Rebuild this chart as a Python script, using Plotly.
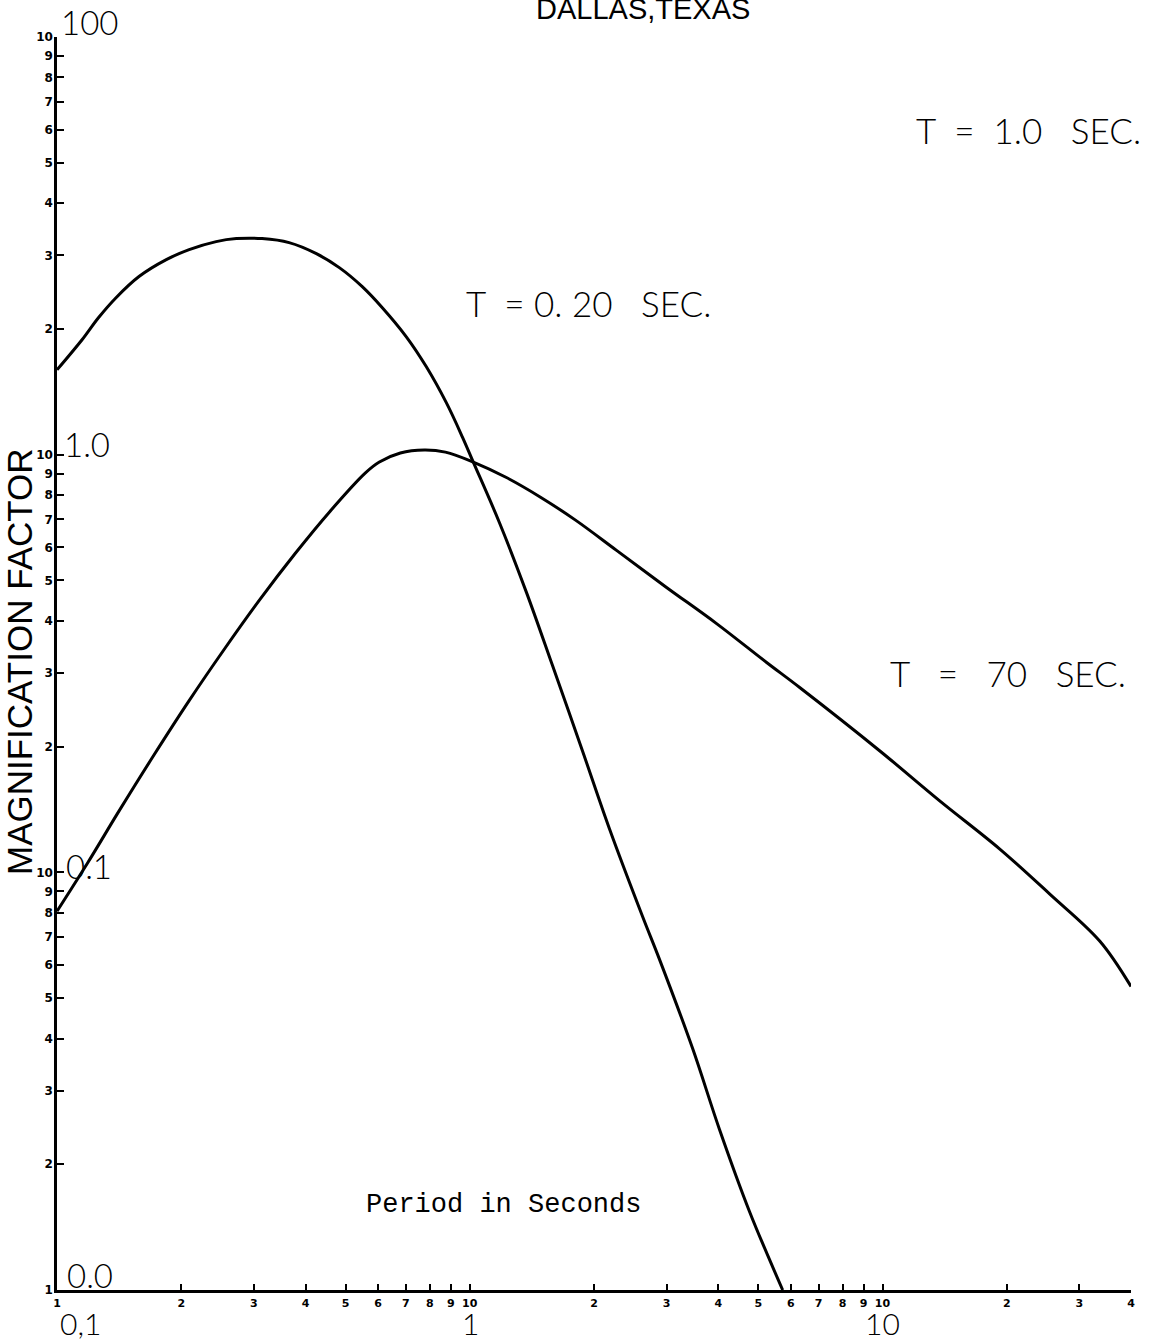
import plotly.graph_objects as go

# ---- data (period in seconds, magnification factor) ----
period_a = [0.1, 0.115, 0.126, 0.139, 0.158, 0.184, 0.209, 0.243, 0.272, 0.314,
            0.365, 0.425, 0.483, 0.549, 0.614, 0.702, 0.785, 0.878, 0.960, 1.02,
            1.179, 1.372, 1.586, 1.875, 2.181, 2.621, 2.882, 3.466, 4.03, 4.764, 5.73]
mag_a = [1.596, 1.884, 2.127, 2.376, 2.670, 2.931, 3.097, 3.237, 3.291, 3.291,
         3.219, 3.029, 2.804, 2.525, 2.248, 1.915, 1.623, 1.330, 1.102, 0.960,
         0.689, 0.468, 0.313, 0.1955, 0.127, 0.0785, 0.0619, 0.0379, 0.0242, 0.0154, 0.01]

period_b = [0.1, 0.1186, 0.1414, 0.1719, 0.209, 0.254, 0.309, 0.378, 0.459, 0.558,
            0.604, 0.679, 0.776, 0.873, 1.02, 1.22, 1.484, 1.804, 2.268, 2.998,
            3.963, 5.239, 6.30, 9.84, 13.76, 19.24, 25.43, 33.63, 40.0]
mag_b = [0.0807, 0.1053, 0.1403, 0.1912, 0.2577, 0.3416, 0.4478, 0.5806, 0.7323, 0.903,
         0.960, 1.009, 1.026, 1.014, 0.960, 0.884, 0.791, 0.697, 0.590, 0.481,
         0.394, 0.318, 0.277, 0.1955, 0.1483, 0.1137, 0.0887, 0.0684, 0.0533]

x_tickvals = [0.1, 0.2, 0.3, 0.4, 0.5, 0.6, 0.7, 0.8, 0.9,
              1, 2, 3, 4, 5, 6, 7, 8, 9,
              10, 20, 30, 40]
x_ticktext = ["1", "2", "3", "4", "5", "6", "7", "8", "9",
              "10", "2", "3", "4", "5", "6", "7", "8", "9",
              "10", "2", "3", "4"]
y_tickvals = [0.01, 0.02, 0.03, 0.04, 0.05, 0.06, 0.07, 0.08, 0.09,
              0.1, 0.2, 0.3, 0.4, 0.5, 0.6, 0.7, 0.8, 0.9,
              1, 2, 3, 4, 5, 6, 7, 8, 9, 10]
y_ticktext = ["1", "2", "3", "4", "5", "6", "7", "8", "9",
              "10", "2", "3", "4", "5", "6", "7", "8", "9",
              "10", "2", "3", "4", "5", "6", "7", "8", "9", "10"]

decade_labels_x = ["0,1", "1", "10"]
decade_labels_y = ["0.0", "0.1", "1.0", "100"]
NB = "\u00a0"
curve_labels = ["T" + NB * 2 + "=" + NB * 2 + "1.0" + NB * 3 + "SEC.",
                "T" + NB * 2 + "=" + NB + "0." + NB + "20" + NB * 3 + "SEC.",
                "T" + NB * 3 + "=" + NB * 3 + "70" + NB * 3 + "SEC."]
title_text = "DALLAS,TEXAS"
x_title = "Period in Seconds"
y_title = "MAGNIFICATION FACTOR"

# ---- layout geometry ----
W, H = 1157, 1342
L, R, T, B = 57, 1131, 37, 1290


def px(x):
    return (x - L) / (R - L)


def py(y):
    return (B - y) / (B - T)


fig = go.Figure()
for xs, ys in ((period_a, mag_a), (period_b, mag_b)):
    fig.add_trace(go.Scatter(x=xs, y=ys, mode="lines",
                             line=dict(color="black", width=3, shape="spline", smoothing=1.0),
                             showlegend=False, hoverinfo="skip"))

fig.update_xaxes(type="log", range=[-1, 1.60206], showgrid=False, zeroline=False,
                 showline=True, linecolor="black", linewidth=2.5,
                 ticks="inside", ticklen=6, tickwidth=2, tickcolor="black",
                 tickvals=x_tickvals, ticktext=x_ticktext,
                 tickfont=dict(family="DejaVu Sans", size=11, color="black", weight="bold"),
                 ticklabelstandoff=1)
fig.update_yaxes(type="log", range=[-2, 1], showgrid=False, zeroline=False,
                 showline=True, linecolor="black", linewidth=2.5,
                 ticks="inside", ticklen=7, tickwidth=2, tickcolor="black",
                 tickvals=y_tickvals, ticktext=y_ticktext,
                 tickfont=dict(family="DejaVu Sans", size=12, color="black", weight="bold"),
                 ticklabelstandoff=-1)

hand = dict(family="Lato", color="black", weight=300)
ann = []
# big decade labels under the x axis
for txt, xp in zip(decade_labels_x, (80, 470, 882)):
    ann.append(dict(text=txt, x=px(xp), y=py(1323), font=dict(size=30, **hand)))
# big decade labels inside the y axis
for txt, (xp, yp) in zip(decade_labels_y, ((90, 1275), (89, 866), (87, 444), (89, 22))):
    ann.append(dict(text=txt, x=px(xp), y=py(yp), font=dict(size=33, **hand)))
# curve labels
for txt, (xp, yp) in zip(curve_labels, ((1028, 130), (588, 303), (1008, 673))):
    ann.append(dict(text=txt, x=px(xp), y=py(yp), font=dict(size=35, **hand)))
# title
ann.append(dict(text=title_text, x=px(643), y=py(9),
                font=dict(family="Liberation Sans", size=29, color="black")))
# axis titles
ann.append(dict(text=x_title, x=px(503), y=py(1205),
                font=dict(family="Liberation Mono", size=27, color="black")))
ann.append(dict(text=y_title, x=px(19), y=py(662), textangle=-90,
                font=dict(family="Liberation Sans", size=35, color="black")))

for a in ann:
    a.update(xref="paper", yref="paper", showarrow=False)
    a.setdefault("xanchor", "center")
    a.setdefault("yanchor", "middle")

fig.update_layout(width=W, height=H, margin=dict(l=L, r=W - R, t=T, b=H - B),
                  paper_bgcolor="white", plot_bgcolor="white", annotations=ann)

fig.write_html("out.html")
